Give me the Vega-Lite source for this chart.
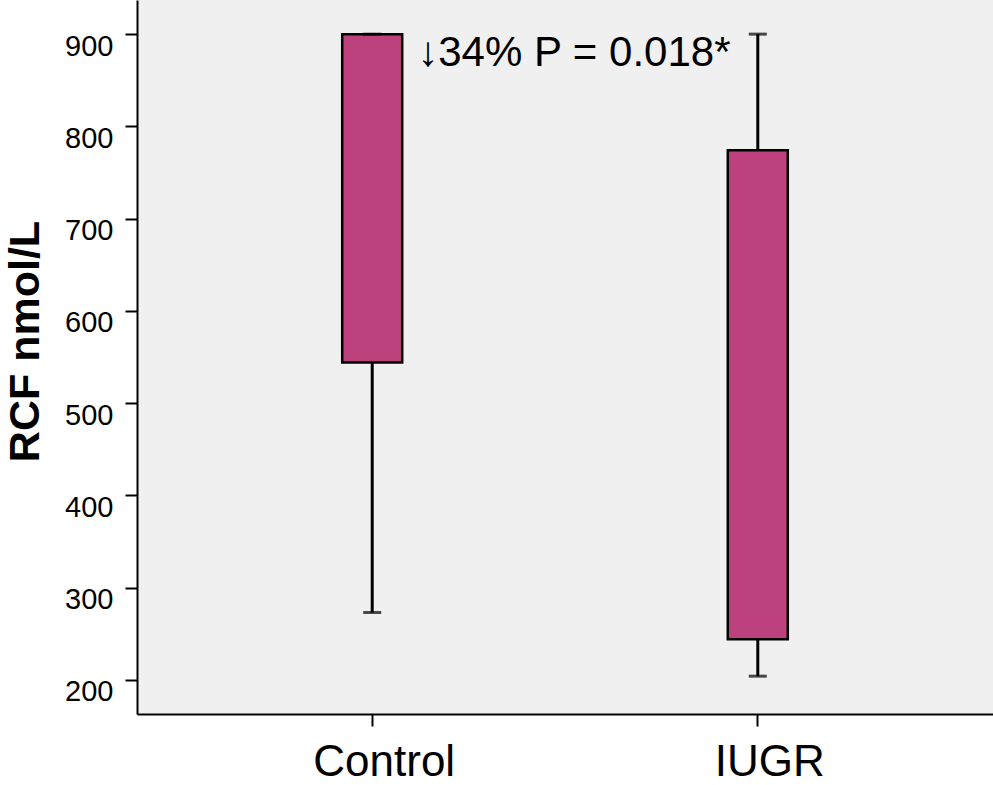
{
  "$schema": "https://vega.github.io/schema/vega-lite/v6.json",
  "width": 856,
  "height": 714,
  "autosize": {"type": "none"},
  "padding": {"left": 137, "top": 0, "right": 0, "bottom": 71},
  "background": "white",
  "config": {
    "view": {"fill": "#F0F0F0", "stroke": null},
    "font": "Liberation Sans",
    "axis": {"domainColor": "black", "domainWidth": 2, "tickColor": "black", "tickWidth": 2, "tickSize": 12, "labelColor": "black", "titleColor": "black", "grid": false}
  },
  "datasets": {
    "boxes": [
      {"group": "Control", "lower": 273, "q1": 544, "q3": 900, "upper": 900},
      {"group": "IUGR", "lower": 204, "q1": 244, "q3": 774, "upper": 900}
    ],
    "notes": [
      {"group": "Control", "value": 880, "label": "↓34% P = 0.018*"}
    ]
  },
  "data": {"name": "boxes"},
  "encoding": {
    "x": {
      "field": "group",
      "type": "nominal",
      "sort": ["Control", "IUGR"],
      "scale": {"type": "band", "domain": ["Control", "IUGR"], "paddingInner": 0, "paddingOuter": 0.11},
      "axis": {"title": null, "labelAngle": 0, "labelFontSize": 44, "labelPadding": 14, "labelOffset": 12}
    }
  },
  "layer": [
    {
      "mark": {"type": "rule", "color": "black", "strokeWidth": 3},
      "encoding": {
        "y": {
          "field": "lower", "type": "quantitative", "title": "RCF nmol/L",
          "scale": {"domain": [163, 937], "nice": false, "zero": false},
          "axis": {
            "values": [200, 300, 400, 500, 600, 700, 800, 900],
            "labelFontSize": 29, "labelBaseline": "top", "labelOffset": -2, "labelPadding": 12,
            "titleFontSize": 43, "titleFontWeight": "bold", "titleX": -112, "titleY": 341,
            "titleAngle": -90, "titleAlign": "center", "titleBaseline": "middle"
          }
        },
        "y2": {"field": "q1"}
      }
    },
    {
      "mark": {"type": "rule", "color": "black", "strokeWidth": 3},
      "encoding": {
        "y": {"field": "q3", "type": "quantitative", "title": "RCF nmol/L"},
        "y2": {"field": "upper"}
      }
    },
    {
      "mark": {"type": "bar", "width": 60, "color": "#BC417C", "stroke": "black", "strokeWidth": 2.5},
      "encoding": {
        "y": {"field": "q1", "type": "quantitative", "title": "RCF nmol/L"},
        "y2": {"field": "q3"}
      }
    },
    {
      "mark": {"type": "tick", "orient": "horizontal", "color": "black", "size": 18, "thickness": 3},
      "encoding": {
        "y": {"field": "lower", "type": "quantitative", "title": "RCF nmol/L"}
      }
    },
    {
      "mark": {"type": "tick", "orient": "horizontal", "color": "black", "size": 18, "thickness": 3},
      "encoding": {
        "y": {"field": "upper", "type": "quantitative", "title": "RCF nmol/L"}
      }
    },
    {
      "data": {"name": "notes"},
      "mark": {"type": "text", "align": "left", "baseline": "middle", "dx": 45, "fontSize": 42, "color": "black"},
      "encoding": {
        "y": {"field": "value", "type": "quantitative", "title": "RCF nmol/L"},
        "text": {"field": "label"}
      }
    }
  ]
}
